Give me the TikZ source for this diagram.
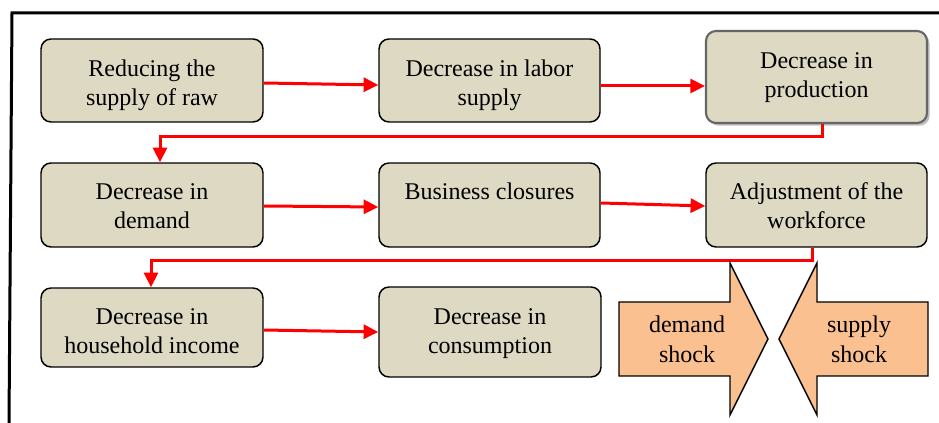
\documentclass[tikz,border=0pt]{standalone}
\usepackage{fontspec}
\setmainfont{Liberation Serif}
\usetikzlibrary{arrows.meta,shadows,calc}
\definecolor{boxfill}{HTML}{DDD9C3}
\definecolor{shockfill}{HTML}{FAC090}
\definecolor{lnred}{HTML}{FF0000}
\begin{document}
\begin{tikzpicture}[x=0.75pt,y=-0.75pt,
  box/.style={draw=black, line width=1.1pt, fill=boxfill, rounded corners=7.5pt, inner sep=0pt},
  txt/.style={anchor=north, inner sep=0pt, align=center, font=\fontsize{18}{21.75}\selectfont},
  shocktxt/.style={inner sep=0pt, align=center, font=\fontsize{18}{22.5}\selectfont},
  conn/.style={draw=lnred, line width=2.25pt, -{Triangle[length=11pt,width=10.5pt]}},
  shock/.style={draw=black, line width=1.1pt, fill=shockfill, line join=miter}
]
\fill[white] (0,0) rectangle (939,423);
\useasboundingbox (0,0) rectangle (939,423);
% frame
\draw[line width=2.25pt] (9,423) -- (12,13) -- (939,13);
% boxes
\node[box, minimum width=166.5pt, minimum height=62.25pt] (b1) at (152,80.5) {};
\node[box, minimum width=165.75pt, minimum height=62.25pt] (b2) at (489.5,80.5) {};
\node[box, draw=gray!80!black, line width=1.6pt, minimum width=165.75pt, minimum height=69pt,
      drop shadow={shadow xshift=2pt, shadow yshift=-2pt, fill=black!50, opacity=0.5}] (b3) at (816.5,77) {};
\node[box, minimum width=166.5pt, minimum height=63pt] (b4) at (152,205) {};
\node[box, minimum width=165.75pt, minimum height=63pt] (b5) at (489.5,205) {};
\node[box, minimum width=165.75pt, minimum height=63pt] (b6) at (816.5,205) {};
\node[box, minimum width=166.5pt, minimum height=59.25pt] (b7) at (152,327.5) {};
\node[box, minimum width=166.5pt, minimum height=67.5pt] (b8) at (490,332) {};
% texts
\node[txt] (t1) at (b1.north) {\rule{0pt}{28.5pt}Reducing the\\supply of raw};
\node[txt] (t2) at (b2.north) {\rule{0pt}{28.5pt}Decrease in labor\\supply};
\node[txt] (t3) at (b3.north) {\rule{0pt}{28.5pt}Decrease in\\production};
\node[txt] (t4) at (b4.north) {\rule{0pt}{28pt}Decrease in\\demand};
\node[txt] (t5) at (b5.north) {\rule{0pt}{28pt}Business closures};
\node[txt] (t6) at (b6.north) {\rule{0pt}{28pt}Adjustment of the\\workforce};
\node[txt] (t7) at (b7.north) {\rule{0pt}{27.5pt}Decrease in\\household income};
\node[txt] (t8) at (b8.north) {\rule{0pt}{28.5pt}Decrease in\\consumption};
% connectors
\draw[conn] ($(b1.east)+(0,2.5)$) -- ($(b2.west)+(0,4.5)$);
\draw[conn] ($(b2.east)+(0,5.5)$) -- ($(b3.west)+(0,9)$);
\draw[conn] ($(b3.south)+(5.5,0)$) -- ++(0,12) -| ($(b4.north)+(8,0)$);
\draw[conn] ($(b4.east)+(0,1)$) -- ($(b5.west)+(0,2)$);
\draw[conn] ($(b5.east)+(0,-2)$) -- ($(b6.west)+(0,1)$);
\draw[conn] ($(b6.south)+(-4.5,0)$) -- ++(0,13) -| ($(b7.north)+(-1,0)$);
\draw[conn] ($(b7.east)+(0,2.5)$) -- ($(b8.west)+(0,0)$);
% shock arrows
\draw[shock] (619,302) -- (730,302) -- (730,263) -- (768,339) -- (730,415) -- (730,376) -- (619,376) -- cycle;
\draw[shock] (779,339) -- (817,263) -- (817,302) -- (928,302) -- (928,376) -- (817,376) -- (817,415) -- cycle;
\node[shocktxt] (dshock) at (687,339) {demand\\shock};
\node[shocktxt] (sshock) at (859,339) {supply\\shock};
\end{tikzpicture}
\end{document}
